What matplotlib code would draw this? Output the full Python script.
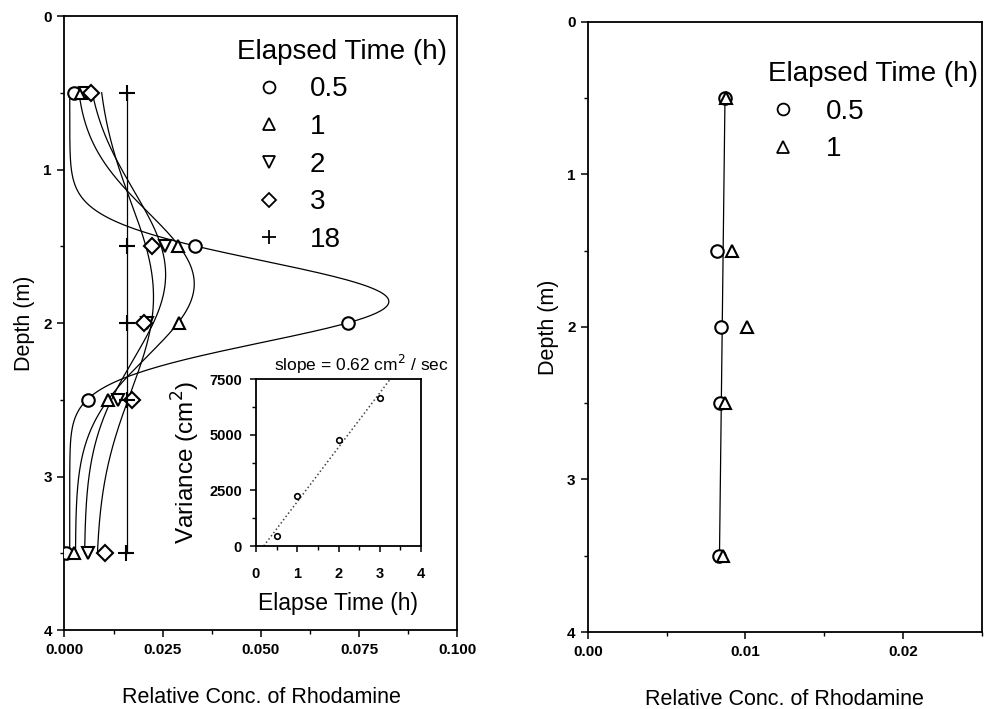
import numpy as np
import matplotlib
matplotlib.use('Agg')
import matplotlib.pyplot as plt
from matplotlib.lines import Line2D
from matplotlib.ticker import MultipleLocator

plt.rcParams['font.family'] = ['Liberation Sans', 'DejaVu Sans']

# sampling depths (m)
depth = [0.5, 1.5, 2.0, 2.5, 3.5]

# relative rhodamine concentration, first release
conc_05h = [0.0024, 0.0333, 0.0721, 0.0059, 0.0003]
conc_1h = [0.0042, 0.0290, 0.0291, 0.0110, 0.0024]
conc_2h = [0.0052, 0.0257, 0.0210, 0.0135, 0.0060]
conc_3h = [0.0068, 0.0224, 0.0203, 0.0171, 0.0103]
conc_18h = [0.0158, 0.0160, 0.0159, 0.0160, 0.0157]

# second release (right panel)
conc2_05h = [0.0087, 0.0082, 0.00845, 0.0084, 0.00835]
conc2_1h = [0.00874, 0.00912, 0.0101, 0.00867, 0.0086]

# variance of the profiles vs. elapsed time (inset)
var_time = [0.5, 1, 2, 3]
var_cm2 = [450, 2230, 4740, 6640]

left_ticks = [0, 0.025, 0.05, 0.075, 0.1]
right_ticks = [0, 0.01, 0.02]
depth_ticks = [0, 1, 2, 3, 4]


def gauss_fit(dep, conc):
    # least squares fit of c = b + A exp(-(z-mu)^2 / 2 s^2)
    # grid over (mu, s), closed form for (b, A)
    z = np.asarray(dep, float)
    c = np.asarray(conc, float)
    mu = np.linspace(0.8, 3.2, 481)[:, None, None]
    sg = np.linspace(0.12, 2.5, 477)[None, :, None]
    g = np.exp(-(z - mu) ** 2 / (2 * sg ** 2))
    gm = g.mean(axis=2, keepdims=True)
    cm = c.mean()
    var = ((g - gm) ** 2).sum(axis=2, keepdims=True)
    A = ((g - gm) * (c - cm)).sum(axis=2, keepdims=True) / np.maximum(var, 1e-12)
    b = cm - A * gm
    err = ((b + A * g - c) ** 2).sum(axis=2)
    err[A[..., 0] < 0] = np.inf
    i, j = np.unravel_index(np.argmin(err), err.shape)
    return mu[i, 0, 0], sg[0, j, 0], A[i, j, 0], b[i, j, 0]


def gauss_curve(dep, conc):
    mu, sg, A, b = gauss_fit(dep, conc)
    zz = np.linspace(dep[0], dep[-1], 400)
    return b + A * np.exp(-(zz - mu) ** 2 / (2 * sg ** 2)), zz


def style_axis(ax, size=11):
    for sp in ax.spines.values():
        sp.set_linewidth(1.3)
    ax.tick_params(which='major', direction='out', length=5, width=1.1, labelsize=size, pad=4)
    ax.tick_params(which='minor', direction='out', length=3, width=1.0)
    for lab in ax.get_xticklabels() + ax.get_yticklabels():
        lab.set_fontweight('bold')


fig = plt.figure(figsize=(9.84, 7.09), dpi=100)

# ---- left panel
ax1 = fig.add_axes([0.0655, 0.1114, 0.3994, 0.866])
ax1.set_xlim(0, 0.1)
ax1.set_ylim(4, 0)
ax1.set_xticks(left_ticks)
ax1.set_xticklabels(['%.3f' % v for v in left_ticks])
ax1.set_yticks(depth_ticks)
ax1.set_yticklabels([str(v) for v in depth_ticks])
ax1.xaxis.set_minor_locator(MultipleLocator(0.0125))
ax1.yaxis.set_minor_locator(MultipleLocator(0.5))
style_axis(ax1)

series = [(conc_05h, 'o', 9.0), (conc_1h, '^', 9.0), (conc_2h, 'v', 9.0),
          (conc_3h, 'D', 7.8), (conc_18h, '+', 11.0)]
for conc, mk, ms in series:
    if mk == '+':
        # long after release the profile is flat
        m = np.mean(conc)
        ax1.plot([m, m], [depth[0], depth[-1]], color='black', lw=0.9, zorder=2)
    else:
        cx, cy = gauss_curve(depth, conc)
        ax1.plot(cx, cy, color='black', lw=0.9, zorder=2)
for conc, mk, ms in series:
    ax1.plot(conc, depth, ls='', marker=mk, ms=ms,
             mfc='white', mec='black', mew=1.5, zorder=3)

ax1.set_xlabel('Relative Conc. of Rhodamine', fontsize=15.5, labelpad=22)
ax1.set_ylabel('Depth (m)', fontsize=15.5, labelpad=6)

labels1 = ['0.5', '1', '2', '3', '18']
handles1 = [Line2D([], [], ls='', marker=mk, ms=ms * 0.95, mfc='white', mec='black', mew=1.3)
            for _, mk, ms in series]
ax1.legend(handles1, labels1, title='Elapsed Time (h)', loc='upper left',
           bbox_to_anchor=(0.44, 0.963), frameon=False, fontsize=20,
           title_fontsize=20, alignment='left', handlelength=2.25,
           handletextpad=0.35, labelspacing=0.42, borderpad=0, borderaxespad=0)

# ---- inset: variance growth
axi = fig.add_axes([256 / 984, 1 - 546 / 709, 165 / 984, 167 / 709])
axi.set_xlim(0, 4)
axi.set_ylim(0, 7500)
axi.set_xticks([0, 1, 2, 3, 4])
axi.set_yticks([0, 2500, 5000, 7500])
axi.xaxis.set_minor_locator(MultipleLocator(0.5))
axi.yaxis.set_minor_locator(MultipleLocator(1250))
style_axis(axi, size=10.5)
axi.tick_params(which='major', length=4)
axi.tick_params(axis='x', which='major', pad=11)
axi.tick_params(axis='y', which='major', pad=6)

slope, icept = np.polyfit(var_time, var_cm2, 1)
fit_x = np.array([-icept / slope, (7500 - icept) / slope])
axi.plot(fit_x, slope * fit_x + icept, ls=':', color='#444444', lw=1.1)
axi.plot(var_time, var_cm2, ls='', marker='o', ms=4, mfc='white', mec='black', mew=1.2)
axi.set_xlabel('Elapse Time (h)', fontsize=16.5, labelpad=8)
axi.set_ylabel('Variance (cm$^2$)', fontsize=17.5, labelpad=5)
fig.text(361 / 984, 1 - 364 / 709, 'slope = 0.62 cm$^2$ / sec', fontsize=12.5,
         ha='center', va='center')

# ---- right panel
ax2 = fig.add_axes([0.5976, 0.1086, 0.3999, 0.8604])
ax2.set_xlim(0, 0.025)
ax2.set_ylim(4, 0)
ax2.set_xticks(right_ticks)
ax2.set_xticklabels(['%.2f' % v for v in right_ticks])
ax2.set_yticks(depth_ticks)
ax2.set_yticklabels([str(v) for v in depth_ticks])
ax2.xaxis.set_minor_locator(MultipleLocator(0.005))
ax2.yaxis.set_minor_locator(MultipleLocator(0.5))
style_axis(ax2)

ax2.plot([conc2_05h[0], conc2_05h[-1]], [depth[0], depth[-1]], color='black', lw=0.9)
ax2.plot(conc2_05h, depth, ls='', marker='o', ms=9, mfc='white', mec='black', mew=1.5)
ax2.plot(conc2_1h, depth, ls='', marker='^', ms=9, mfc='white', mec='black', mew=1.5)
ax2.set_xlabel('Relative Conc. of Rhodamine', fontsize=15.5, labelpad=22)
ax2.set_ylabel('Depth (m)', fontsize=15.5, labelpad=6)

handles2 = [Line2D([], [], ls='', marker=mk, ms=8.5, mfc='white', mec='black', mew=1.3)
            for mk in ['o', '^']]
ax2.legend(handles2, ['0.5', '1'], title='Elapsed Time (h)', loc='upper left',
           bbox_to_anchor=(0.457, 0.936), frameon=False, fontsize=20,
           title_fontsize=20, alignment='left', handlelength=1.1,
           handletextpad=1.0, labelspacing=0.42, borderpad=0, borderaxespad=0)

fig.savefig('out.png', dpi=100)
